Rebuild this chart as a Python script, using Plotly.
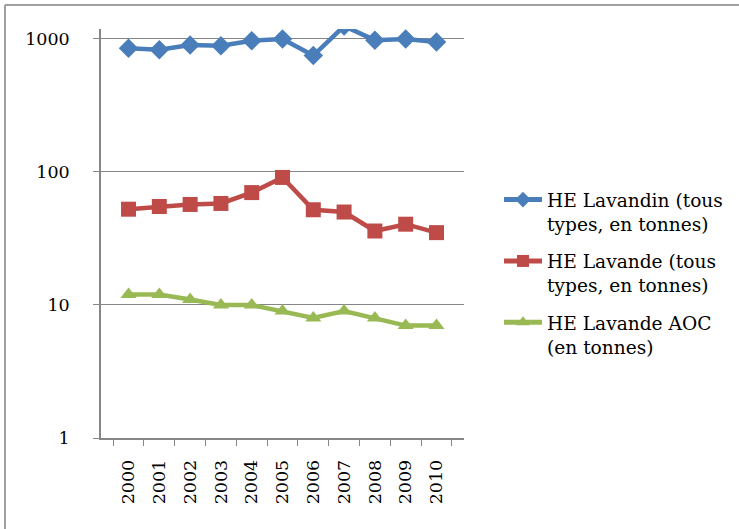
import plotly.graph_objects as go

years = ["2000", "2001", "2002", "2003", "2004", "2005", "2006", "2007", "2008", "2009", "2010"]
lavandin = [850, 830, 900, 890, 970, 1000, 750, 1250, 980, 1000, 950]
lavande = [52.5, 55, 57, 58, 70, 91, 52, 50, 36, 40.5, 35]
lavande_aoc = [12, 12, 11, 10, 10, 9, 8, 9, 8, 7, 7]

names = ["HE Lavandin (tous<br>types, en tonnes)",
         "HE Lavande (tous<br>types, en tonnes)",
         "HE Lavande AOC<br>(en tonnes)"]
colors = ["#4A7EBB", "#BE4B48", "#98B954"]
symbols = ["diamond", "square", "triangle-up"]
sizes = [15, 15, 14]
series = [lavandin, lavande, lavande_aoc]

FONT = "DejaVu Serif"

fig = go.Figure()
for i, (s, n, c, sym, sz) in enumerate(zip(series, names, colors, symbols, sizes)):
    fig.add_trace(go.Scatter(
        x=years, y=s, name=n, mode="lines+markers", legendgroup=f"g{i}",
        line=dict(color=c, width=4.5),
        marker=dict(symbol=sym, size=sz, color=c),
        cliponaxis=True,
    ))

W, H = 739, 529
L, R, T, B = 101, 464, 29, 438
pw, ph = R - L, B - T

def px_x(x):
    return (x - L) / pw

def px_y(y):
    return (B - y) / ph

fig.update_layout(
    width=W, height=H,
    margin=dict(l=L, r=W - R, t=T, b=H - B, pad=0, autoexpand=False),
    paper_bgcolor="white", plot_bgcolor="white",
    font=dict(family=FONT, size=17.5, color="#000000"),
    showlegend=True,
    legend=dict(
        x=px_x(499), y=px_y(181), xanchor="left", yanchor="top",
        font=dict(family=FONT, size=18.6, color="#000000"),
        valign="top", tracegroupgap=10, itemwidth=38, itemsizing="constant",
        bgcolor="rgba(0,0,0,0)",
    ),
    xaxis=dict(
        type="category", tickangle=-90, tickson="boundaries",
        ticks="outside", ticklen=6, tickcolor="#868686",
        showline=True, linecolor="#868686", linewidth=1.5,
        showgrid=False, zeroline=False, automargin=False,
        tickfont=dict(family=FONT, size=17.5),
        ticklabelstandoff=13,
    ),
    yaxis=dict(
        type="log", range=[0, 3.075], automargin=False,
        tickvals=[1, 10, 100, 1000], ticktext=["1", "10", "100", "1000"],
        ticks="outside", ticklen=6, tickcolor="#868686",
        showline=True, linecolor="#868686", linewidth=1.5,
        showgrid=True, gridcolor="#868686", gridwidth=1.2,
        zeroline=False,
        tickfont=dict(family=FONT, size=17.5),
        ticklabelstandoff=20,
    ),
    shapes=[
        dict(type="line", xref="paper", yref="paper",
             x0=px_x(5), x1=px_x(760), y0=px_y(5), y1=px_y(5),
             line=dict(color="#A0A0A0", width=2)),
        dict(type="line", xref="paper", yref="paper",
             x0=px_x(5), x1=px_x(5), y0=px_y(5), y1=px_y(560),
             line=dict(color="#A0A0A0", width=2)),
    ],
)

fig.write_html("out.html", config={"displayModeBar": False},
               post_script="document.body.style.margin='0';")
